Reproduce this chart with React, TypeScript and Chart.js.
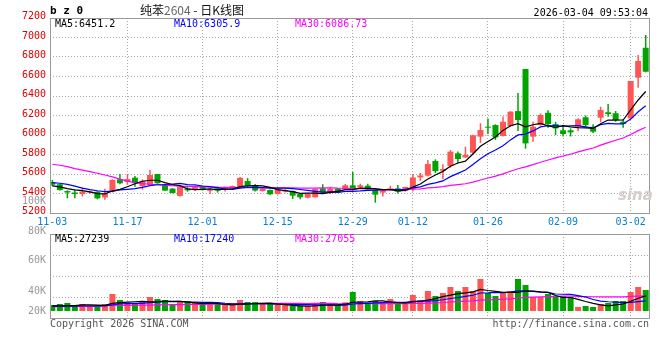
import React, { useEffect, useRef } from "react";
import { Chart, registerables } from "chart.js";
Chart.register(...registerables);

// ---------------- data ----------------
const dates = [
  "11-03","11-04","11-05","11-06","11-07","11-10","11-11","11-12","11-13","11-14",
  "11-17","11-18","11-19","11-20","11-21","11-24","11-25","11-26","11-27","11-28",
  "12-01","12-02","12-03","12-04","12-05","12-08","12-09","12-10","12-11","12-12",
  "12-15","12-16","12-17","12-18","12-19","12-22","12-23","12-24","12-25","12-26",
  "12-29","12-30","12-31","01-05","01-06","01-07","01-08","01-09",
  "01-12","01-13","01-14","01-15","01-16","01-19","01-20","01-21","01-22","01-23",
  "01-26","01-27","01-28","01-29","01-30","02-02","02-03","02-04","02-05","02-06",
  "02-09","02-10","02-11","02-12","02-13","02-24","02-25","02-26","02-27",
  "03-02","03-03","03-04",
];

const opens = [
  5518,5495,5425,5410,5395,5410,5418,5360,5418,5545,
  5520,5562,5475,5485,5600,5497,5450,5375,5450,5436,
  5475,5428,5453,5440,5453,5465,5528,5484,5426,5436,
  5395,5420,5426,5395,5357,5361,5453,5405,5450,5443,
  5484,5463,5480,5436,5409,5440,5453,5426,5450,5565,
  5583,5733,5634,5682,5812,5770,5819,5983,6085,6102,
  5990,6092,6245,6677,5983,6102,6228,6112,6048,6048,
  6085,6182,6085,6177,6233,6223,6136,6171,6588,6895,
];
const closes = [
  5490,5435,5410,5395,5420,5420,5350,5402,5540,5505,
  5548,5505,5530,5590,5505,5430,5405,5470,5432,5465,
  5436,5435,5429,5453,5477,5560,5478,5430,5450,5392,
  5443,5436,5378,5361,5395,5446,5409,5450,5409,5484,
  5446,5484,5443,5388,5433,5453,5419,5467,5565,5585,
  5702,5630,5651,5829,5754,5795,5997,6051,6075,5976,
  6136,6239,6153,5914,6085,6205,6112,6068,6010,6027,
  6161,6103,6034,6256,6215,6154,6113,6554,6759,6649,
];
const highs = [
  5538,5500,5432,5436,5460,5428,5425,5450,5545,5600,
  5600,5580,5545,5640,5600,5500,5455,5475,5465,5480,
  5482,5450,5470,5470,5482,5570,5558,5497,5455,5440,
  5450,5445,5430,5400,5400,5450,5495,5470,5455,5497,
  5620,5500,5500,5440,5445,5480,5487,5470,5600,5610,
  5743,5750,5700,5845,5830,5880,6003,6120,6170,6110,
  6190,6245,6430,6677,6135,6220,6255,6135,6100,6068,
  6172,6200,6110,6290,6318,6246,6161,6554,6820,7026,
];
const lows = [
  5477,5430,5350,5352,5370,5398,5340,5335,5410,5495,
  5490,5468,5440,5480,5500,5425,5400,5368,5418,5425,
  5430,5395,5409,5420,5448,5460,5470,5420,5420,5385,
  5390,5410,5344,5340,5350,5360,5400,5395,5405,5440,
  5430,5455,5430,5306,5370,5430,5400,5420,5420,5530,
  5575,5610,5545,5665,5710,5765,5805,5920,6010,5950,
  5985,6085,6040,5860,5930,6095,6075,6000,5985,5985,
  6040,6085,6020,6130,6188,6136,6075,6160,6485,6643,
];

const ma5 = [
  5478,5468,5450,5438,5430,5416,5399,5397,5426,5443,
  5469,5500,5526,5536,5536,5512,5492,5480,5448,5440,
  5442,5448,5439,5444,5446,5471,5479,5480,5479,5462,
  5439,5430,5420,5402,5403,5403,5398,5412,5422,5440,
  5440,5455,5453,5449,5439,5440,5427,5432,5467,5498,
  5548,5590,5627,5679,5713,5732,5805,5885,5934,5979,
  6047,6095,6116,6084,6105,6119,6094,6077,6096,6084,
  6076,6074,6067,6116,6154,6152,6154,6258,6359,6446,
];
const ma10 = [
  5512,5505,5494,5475,5455,5440,5428,5420,5425,5437,
  5443,5450,5462,5481,5490,5491,5496,5503,5492,5488,
  5477,5470,5460,5446,5443,5456,5464,5460,5461,5454,
  5455,5455,5450,5441,5432,5421,5414,5416,5412,5421,
  5421,5426,5433,5435,5439,5440,5441,5443,5458,5468,
  5494,5509,5529,5573,5606,5640,5698,5756,5807,5846,
  5889,5950,6001,6009,6042,6083,6095,6096,6090,6095,
  6097,6084,6072,6106,6119,6114,6114,6163,6238,6300,
];
const ma30 = [
  5700,5690,5675,5655,5640,5625,5608,5590,5570,5548,
  5527,5512,5502,5495,5490,5484,5480,5476,5473,5470,
  5468,5466,5464,5462,5461,5461,5461,5460,5460,5460,
  5458,5458,5457,5456,5455,5456,5458,5459,5455,5454,
  5451,5450,5447,5441,5438,5439,5439,5439,5444,5448,
  5457,5463,5471,5483,5492,5500,5517,5538,5559,5578,
  5602,5628,5654,5673,5696,5721,5744,5765,5785,5803,
  5827,5848,5867,5896,5922,5946,5969,6005,6045,6080,
];

const volumes = [
  10800,12600,14400,10800,12600,10200,10200,12600,30600,19800,
  15600,13800,17400,25200,21600,19800,12000,16800,18000,15600,
  12000,16200,12000,10800,10800,19800,16200,16200,13800,12600,
  10800,10800,9000,9000,9000,14400,16200,12600,9000,15600,
  34200,18000,15600,18000,15600,21600,12600,12600,28800,19800,
  36000,27000,32400,43200,36000,43200,36000,57600,32400,27000,
  32400,36000,57600,46800,25200,25200,30600,27000,27000,25200,
  7200,9000,7200,12600,14400,18000,18000,34200,43200,37800,
];
const volMa5 = [
  9400,9400,9600,9800,11016,10908,10476,10152,13716,15012,
  15984,16632,17496,16524,16848,17604,17280,17172,15876,14796,
  13392,14148,13284,11988,11124,12528,12528,13284,13824,14148,
  12528,11556,10260,9396,8748,9396,10368,11016,11016,12204,
  15768,16092,16632,18252,18252,15984,15012,14472,16416,17172,
  19764,22356,25920,28512,31428,32724,34344,38880,36936,35316,
  33372,33372,33372,35964,35640,34344,33372,27864,24300,24300,
  21060,17172,13608,11016,9072,11016,12636,17496,23004,27216,
];
const volMa10 = [
  8600,8600,8800,8800,9000,9000,9200,9400,11000,13014,
  13446,13554,13824,15120,15930,16794,16956,17334,16200,15822,
  15498,15714,15228,13932,12960,12960,13338,13284,12906,12636,
  12528,12042,11772,11610,11448,10962,10962,10638,10206,10476,
  12582,13230,13824,14634,15228,15876,15552,15552,17334,17712,
  17874,18684,20196,22464,24300,26244,28350,32400,32724,33372,
  33048,33858,36126,36450,35478,33858,33372,30618,30132,29970,
  27702,25272,20736,17658,16686,16038,14904,15552,17010,18144,
];
const volMa30 = [
  8000,8000,8100,8100,8200,8200,8400,9600,10000,10200,
  10300,10400,10500,10700,10900,11100,11300,11500,11700,11900,
  12100,12300,12500,12700,12900,13100,13300,13500,13650,13824,
  13824,13770,13608,13554,13446,13572,13752,13752,13104,12978,
  13536,13662,13608,13392,13212,13266,13284,13158,13482,13608,
  14328,14652,15264,16236,16992,17694,18288,19530,20088,20520,
  21168,21924,23382,24516,25002,25326,25758,26190,26730,27018,
  26208,25938,25686,25524,25488,25380,25542,26190,26622,27162,
];

const priceTicks = [7200, 7000, 6800, 6600, 6400, 6200, 6000, 5800, 5600, 5400, 5200];
const xTickDates = ["11-03", "11-17", "12-01", "12-15", "12-29", "01-12", "01-26", "02-09", "03-02"];
const volTickLabels = ["100K", "80K", "60K", "40K", "20K"];

const priceLegend = ["MA5:6451.2", "MA10:6305.9", "MA30:6086.73"];
const volLegend = ["MA5:27239", "MA10:17240", "MA30:27055"];
const symbolText = "b z 0";
const titleName = "纯苯";
const titleCode = "2604";
const titleRest = " - 日K线图";
const timeText = "2026-03-04 09:53:04";
const copyrightText = "Copyright 2026 SINA.COM";
const urlText = "http://finance.sina.com.cn";

// ---------------- styles ----------------
const MONO = '"DejaVu Sans Mono", "Liberation Mono", monospace';
const RED = "#ff5555";
const GREEN = "#00a400";
const GRID = "#a8a8a8";
const FRAME = "#999999";
const LINE_COLORS = ["#000000", "#0000ff", "#ff00ff"];
const X_MIN = -0.31;
const X_MAX = 79.44;
const P_MIN = 5200;
const P_MAX = 7200;
const V_MIN = -12600;
const V_MAX = 138600;
const volLabelCenters = [200.5, 230.7, 260, 290.7, 311];
const legendLefts = [55, 174, 295];

const framePlugin = {
  id: "frame",
  afterDraw(chart: any) {
    const { ctx, chartArea } = chart;
    ctx.save();
    ctx.strokeStyle = FRAME;
    ctx.lineWidth = 1;
    ctx.setLineDash([]);
    ctx.strokeRect(
      Math.round(chartArea.left) + 0.5,
      Math.round(chartArea.top) + 0.5,
      Math.round(chartArea.right - chartArea.left),
      Math.round(chartArea.bottom - chartArea.top)
    );
    ctx.restore();
  },
};

const T = "rgba(0,0,0,0)";

function lineDs(arr: number[], color: string) {
  return {
    type: "line" as const,
    data: arr.map((v, i) => ({ x: i, y: v })),
    borderColor: color,
    borderWidth: 1.2,
    pointRadius: 0,
    tension: 0,
    fill: false,
    order: 0,
  };
}

function xScale(showLabels: boolean) {
  const idx = xTickDates.map((d) => dates.indexOf(d));
  return {
    type: "linear" as const,
    min: X_MIN,
    max: X_MAX,
    offset: false,
    afterBuildTicks: (s: any) => {
      s.ticks = idx.map((v) => ({ value: v }));
    },
    afterFit: (s: any) => {
      s.height = showLabels ? 19 : 0;
    },
    ticks: {
      display: showLabels,
      autoSkip: false,
      maxRotation: 0,
      padding: 3,
      color: "#0a80d0",
      font: { family: MONO, size: 10 },
      callback: (v: any) => dates[Math.round(Number(v))],
    },
    grid: {
      offset: false,
      drawTicks: false,
      lineWidth: 1,
      color: (c: any) => (c.tick && c.tick.value === 0 ? T : GRID),
    },
    border: { display: false, dash: [1, 2] },
  };
}

export default function App() {
  const priceRef = useRef<HTMLCanvasElement>(null);
  const volRef = useRef<HTMLCanvasElement>(null);

  useEffect(() => {
    const colors = closes.map((c, i) => (c >= opens[i] ? RED : GREEN));

    const priceChart = new Chart(priceRef.current as HTMLCanvasElement, {
      type: "bar",
      data: {
        datasets: [
          lineDs(ma5, LINE_COLORS[0]),
          lineDs(ma10, LINE_COLORS[1]),
          lineDs(ma30, LINE_COLORS[2]),
          {
            type: "bar",
            data: opens.map((o, i) => ({ x: i, y: [o, closes[i]] })),
            backgroundColor: colors,
            barThickness: 6,
            grouped: false,
            minBarLength: 1,
            borderWidth: 0,
            inflateAmount: 0,
            order: 1,
          } as any,
          {
            type: "bar",
            data: lows.map((l, i) => ({ x: i, y: [l, highs[i]] })),
            backgroundColor: colors,
            barThickness: 1.5,
            grouped: false,
            borderWidth: 0,
            inflateAmount: 0,
            order: 2,
          } as any,
        ],
      },
      options: {
        responsive: false,
        animation: false,
        events: [],
        layout: { padding: { top: 18, right: 11, left: 0, bottom: 0 } },
        plugins: { legend: { display: false }, tooltip: { enabled: false } },
        scales: {
          x: xScale(true) as any,
          y: {
            type: "linear",
            min: P_MIN,
            max: P_MAX,
            afterBuildTicks: (s: any) => {
              s.ticks = priceTicks.map((v) => ({ value: v }));
            },
            afterFit: (s: any) => {
              s.width = 50;
            },
            ticks: {
              color: "#e00000",
              font: { family: MONO, size: 10 },
              padding: 4,
              labelOffset: -1.5,
              callback: (v: any) => String(v),
            },
            grid: {
              drawTicks: false,
              color: (c: any) =>
                c.tick && (c.tick.value === P_MIN || c.tick.value === P_MAX) ? T : GRID,
            },
            border: { display: false, dash: [1, 2] },
          } as any,
        },
      },
      plugins: [framePlugin],
    });

    const volChart = new Chart(volRef.current as HTMLCanvasElement, {
      type: "bar",
      data: {
        datasets: [
          lineDs(volMa5, LINE_COLORS[0]),
          lineDs(volMa10, LINE_COLORS[1]),
          lineDs(volMa30, LINE_COLORS[2]),
          {
            type: "bar",
            data: volumes.map((v, i) => ({ x: i, y: v })),
            backgroundColor: colors,
            barThickness: 6,
            grouped: false,
            borderWidth: 0,
            inflateAmount: 0,
            order: 1,
          } as any,
        ],
      },
      options: {
        responsive: false,
        animation: false,
        events: [],
        layout: { padding: { top: 4, right: 11, left: 0, bottom: 4 } },
        plugins: { legend: { display: false }, tooltip: { enabled: false } },
        scales: {
          x: xScale(false) as any,
          y: {
            type: "linear",
            min: V_MIN,
            max: V_MAX,
            afterBuildTicks: (s: any) => {
              const step = (V_MAX - V_MIN) / 4;
              s.ticks = [0, 1, 2, 3, 4].map((k) => ({ value: V_MIN + k * step }));
            },
            afterFit: (s: any) => {
              s.width = 50;
            },
            ticks: { display: false },
            grid: {
              drawTicks: false,
              color: (c: any) =>
                c.tick && (c.tick.value === V_MIN || c.tick.value === V_MAX) ? T : GRID,
            },
            border: { display: false, dash: [1, 2] },
          } as any,
        },
      },
      plugins: [framePlugin],
    });

    return () => {
      priceChart.destroy();
      volChart.destroy();
    };
  }, []);

  const txt = (
    content: React.ReactNode,
    style: React.CSSProperties,
    key?: string | number
  ) => (
    <div
      key={key}
      style={{
        position: "absolute",
        whiteSpace: "pre",
        fontFamily: MONO,
        fontSize: 10,
        lineHeight: "12px",
        ...style,
      }}
    >
      {content}
    </div>
  );

  return (
    <div
      style={{
        position: "absolute",
        left: 0,
        top: 0,
        width: 660,
        height: 360,
        background: "#ffffff",
        overflow: "hidden",
      }}
    >
      <canvas
        ref={priceRef}
        width={660}
        height={232}
        style={{ position: "absolute", left: 0, top: 0, width: 660, height: 232 }}
      />
      <canvas
        ref={volRef}
        width={660}
        height={92}
        style={{ position: "absolute", left: 0, top: 230, width: 660, height: 92 }}
      />
      {txt(symbolText, { left: 50, top: 5, fontWeight: "bold", fontSize: 11, color: "#000" })}
      {txt(
        <span>
          {titleName}
          <span style={{ color: "#666" }}>{titleCode}</span>
          {titleRest}
        </span>,
        { left: 140, top: 3, fontFamily: '"Noto Sans CJK SC", sans-serif', fontSize: 12, lineHeight: "14px", color: "#111" }
      )}
      {txt(timeText, { right: 12, top: 6.5, color: "#000" })}
      {priceLegend.map((t, i) =>
        txt(t, { left: legendLefts[i], top: 17.5, color: LINE_COLORS[i] }, "pl" + i)
      )}
      {volLegend.map((t, i) =>
        txt(t, { left: legendLefts[i], top: 232.5, color: LINE_COLORS[i] }, "vl" + i)
      )}
      {volTickLabels.map((t, i) =>
        txt(t, { right: 614, top: volLabelCenters[i] - 6, color: "#999", textAlign: "right" }, "vt" + i)
      )}
      {txt(copyrightText, { left: 50, top: 318, color: "#555" })}
      {txt(urlText, { right: 11, top: 318, color: "#555" })}
      {txt("sina", {
        left: 618,
        top: 186,
        fontFamily: '"DejaVu Sans", sans-serif',
        fontStyle: "italic",
        fontWeight: "bold",
        fontSize: 15,
        lineHeight: "18px",
        color: "#d6cccc",
      })}
    </div>
  );
}
